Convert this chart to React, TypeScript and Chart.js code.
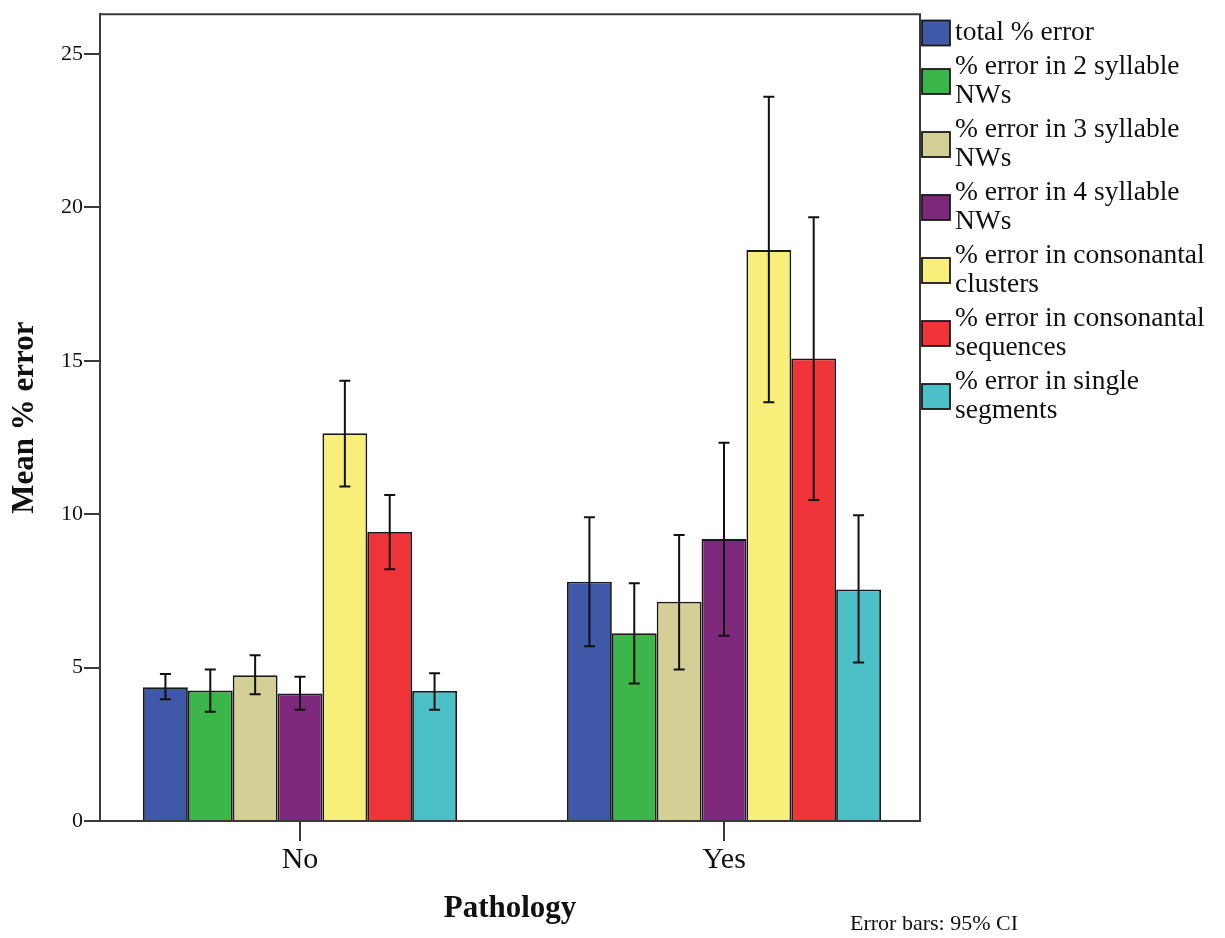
import React, { useEffect, useRef } from 'react';
import { Chart, registerables } from 'chart.js';

Chart.register(...registerables);

// ---- data ----
const categories = ['No', 'Yes'];

const seriesLabels: string[][] = [
  ['total % error'],
  ['% error in 2 syllable', 'NWs'],
  ['% error in 3 syllable', 'NWs'],
  ['% error in 4 syllable', 'NWs'],
  ['% error in consonantal', 'clusters'],
  ['% error in consonantal', 'sequences'],
  ['% error in single', 'segments'],
];

const seriesColors = ['#3F58A8', '#3CB54A', '#D4CF97', '#7E287C', '#F7EF7A', '#EE3339', '#4BC1C7'];

// means per series (order as seriesLabels)
const meanNo = [4.36, 4.25, 4.75, 4.16, 12.64, 9.42, 4.24];
const meanYes = [7.8, 6.12, 7.15, 9.19, 18.61, 15.08, 7.55];

// 95% CI bounds
const ciLowNo = [3.97, 3.56, 4.13, 3.63, 10.9, 8.21, 3.63];
const ciHighNo = [4.79, 4.94, 5.4, 4.7, 14.35, 10.63, 4.82];
const ciLowYes = [5.7, 4.48, 4.94, 6.04, 13.65, 10.46, 5.17];
const ciHighYes = [9.9, 7.75, 9.32, 12.33, 23.61, 19.68, 9.97];

const yTickValues = [0, 5, 10, 15, 20, 25];
const yTitle = 'Mean % error';
const xTitle = 'Pathology';
const footnote = 'Error bars: 95% CI';

// ---- styling ----
const FONT = '"Liberation Serif", "Times New Roman", serif';
const AXIS_COLOR = '#3a3a3a';
const TEXT_COLOR = '#111111';

const framePlugin = {
  id: 'frame',
  afterDraw(chart: any) {
    const { ctx, chartArea: a } = chart;
    ctx.save();
    ctx.strokeStyle = AXIS_COLOR;
    ctx.lineWidth = 2;
    ctx.beginPath();
    ctx.moveTo(a.left, a.top);
    ctx.lineTo(a.right, a.top);
    ctx.lineTo(a.right, a.bottom);
    ctx.stroke();
    ctx.restore();
  },
};

const errorBarPlugin = {
  id: 'errorBars',
  afterDatasetsDraw(chart: any) {
    const { ctx } = chart;
    const y = chart.scales.y;
    ctx.save();
    ctx.strokeStyle = '#111111';
    ctx.lineWidth = 2;
    chart.data.datasets.forEach((ds: any, i: number) => {
      const meta = chart.getDatasetMeta(i);
      meta.data.forEach((bar: any, j: number) => {
        const lo = y.getPixelForValue(ds.ciLow[j]);
        const hi = y.getPixelForValue(ds.ciHigh[j]);
        const cap = 5.5;
        ctx.beginPath();
        ctx.moveTo(bar.x, lo);
        ctx.lineTo(bar.x, hi);
        ctx.moveTo(bar.x - cap, lo);
        ctx.lineTo(bar.x + cap, lo);
        ctx.moveTo(bar.x - cap, hi);
        ctx.lineTo(bar.x + cap, hi);
        ctx.stroke();
      });
    });
    ctx.restore();
  },
};

const legendPlugin = {
  id: 'sideLegend',
  afterDraw(chart: any) {
    const { ctx, chartArea: a } = chart;
    ctx.save();
    const lineH = 29;
    const gap = 5;
    const swW = 28;
    const swH = 25;
    const x0 = a.right + 2;
    let y = 33;
    ctx.font = `27.5px ${FONT}`;
    ctx.textBaseline = 'middle';
    ctx.textAlign = 'left';
    chart.data.datasets.forEach((ds: any) => {
      const lines: string[] = ds.legendLines;
      const centre = y + ((lines.length - 1) * lineH) / 2;
      ctx.fillStyle = ds.backgroundColor;
      ctx.fillRect(x0, centre - swH / 2, swW, swH);
      ctx.strokeStyle = '#1a1a1a';
      ctx.lineWidth = 1.8;
      ctx.strokeRect(x0, centre - swH / 2, swW, swH);
      ctx.fillStyle = TEXT_COLOR;
      lines.forEach((t, k) => ctx.fillText(t, x0 + 33, y + k * lineH));
      y += lines.length * lineH + gap;
    });
    ctx.font = `22px ${FONT}`;
    ctx.fillText(footnote, 850, 924);
    ctx.restore();
  },
};

export default function App() {
  const canvasRef = useRef<HTMLCanvasElement | null>(null);

  useEffect(() => {
    if (!canvasRef.current) return;
    const means = [meanNo, meanYes];
    const lows = [ciLowNo, ciLowYes];
    const highs = [ciHighNo, ciHighYes];

    const datasets = seriesLabels.map((lines, i) => ({
      label: lines.join(' '),
      legendLines: lines,
      data: categories.map((_, j) => ({ x: j, y: means[j][i] })),
      ciLow: categories.map((_, j) => lows[j][i]),
      ciHigh: categories.map((_, j) => highs[j][i]),
      backgroundColor: seriesColors[i],
      borderColor: '#1a1a1a',
      borderWidth: 1.8,
      categoryPercentage: 0.7406,
      barPercentage: 1.0,
    }));

    const chart = new Chart(canvasRef.current, {
      type: 'bar',
      data: { datasets } as any,
      plugins: [framePlugin, errorBarPlugin, legendPlugin],
      options: {
        animation: false,
        responsive: true,
        maintainAspectRatio: false,
        layout: { padding: { top: 14, right: 305, bottom: 0, left: 0 } },
        plugins: { legend: { display: false }, tooltip: { enabled: false } },
        scales: {
          x: {
            type: 'linear',
            offset: false,
            min: -0.4717,
            max: 1.4623,
            afterBuildTicks: (s: any) => {
              s.ticks = categories.map((_, i) => ({ value: i }));
            },
            afterFit: (s: any) => {
              s.height = 117;
            },
            ticks: {
              callback: (v: any) => categories[v as number] ?? '',
              font: { family: FONT, size: 30 },
              color: TEXT_COLOR,
              padding: 1,
              autoSkip: false,
              maxRotation: 0,
            },
            grid: {
              offset: false,
              drawOnChartArea: false,
              drawTicks: true,
              tickLength: 20,
              color: AXIS_COLOR,
              lineWidth: 2,
            },
            border: { color: AXIS_COLOR, width: 2 },
            title: {
              display: true,
              text: xTitle,
              color: TEXT_COLOR,
              font: { family: FONT, size: 31, weight: 'bold' },
              padding: { top: 0, bottom: 10 },
            },
          },
          y: {
            type: 'linear',
            min: 0,
            max: 26.3,
            afterBuildTicks: (s: any) => {
              s.ticks = yTickValues.map((v) => ({ value: v }));
            },
            afterFit: (s: any) => {
              s.width = 100;
            },
            ticks: {
              stepSize: 5,
              font: { family: FONT, size: 22 },
              color: TEXT_COLOR,
              padding: 1,
            },
            grid: { drawOnChartArea: false, drawTicks: true, tickLength: 16, color: AXIS_COLOR, lineWidth: 2 },
            border: { color: AXIS_COLOR, width: 2 },
            title: {
              display: true,
              text: yTitle,
              color: TEXT_COLOR,
              font: { family: FONT, size: 31, weight: 'bold' },
              padding: { top: 6, bottom: 0 },
            },
          },
        },
      } as any,
    });
    return () => chart.destroy();
  }, []);

  return (
    <div style={{ position: 'fixed', left: 0, top: 0, width: 1225, height: 938, background: '#ffffff' }}>
      <canvas ref={canvasRef} />
    </div>
  );
}
